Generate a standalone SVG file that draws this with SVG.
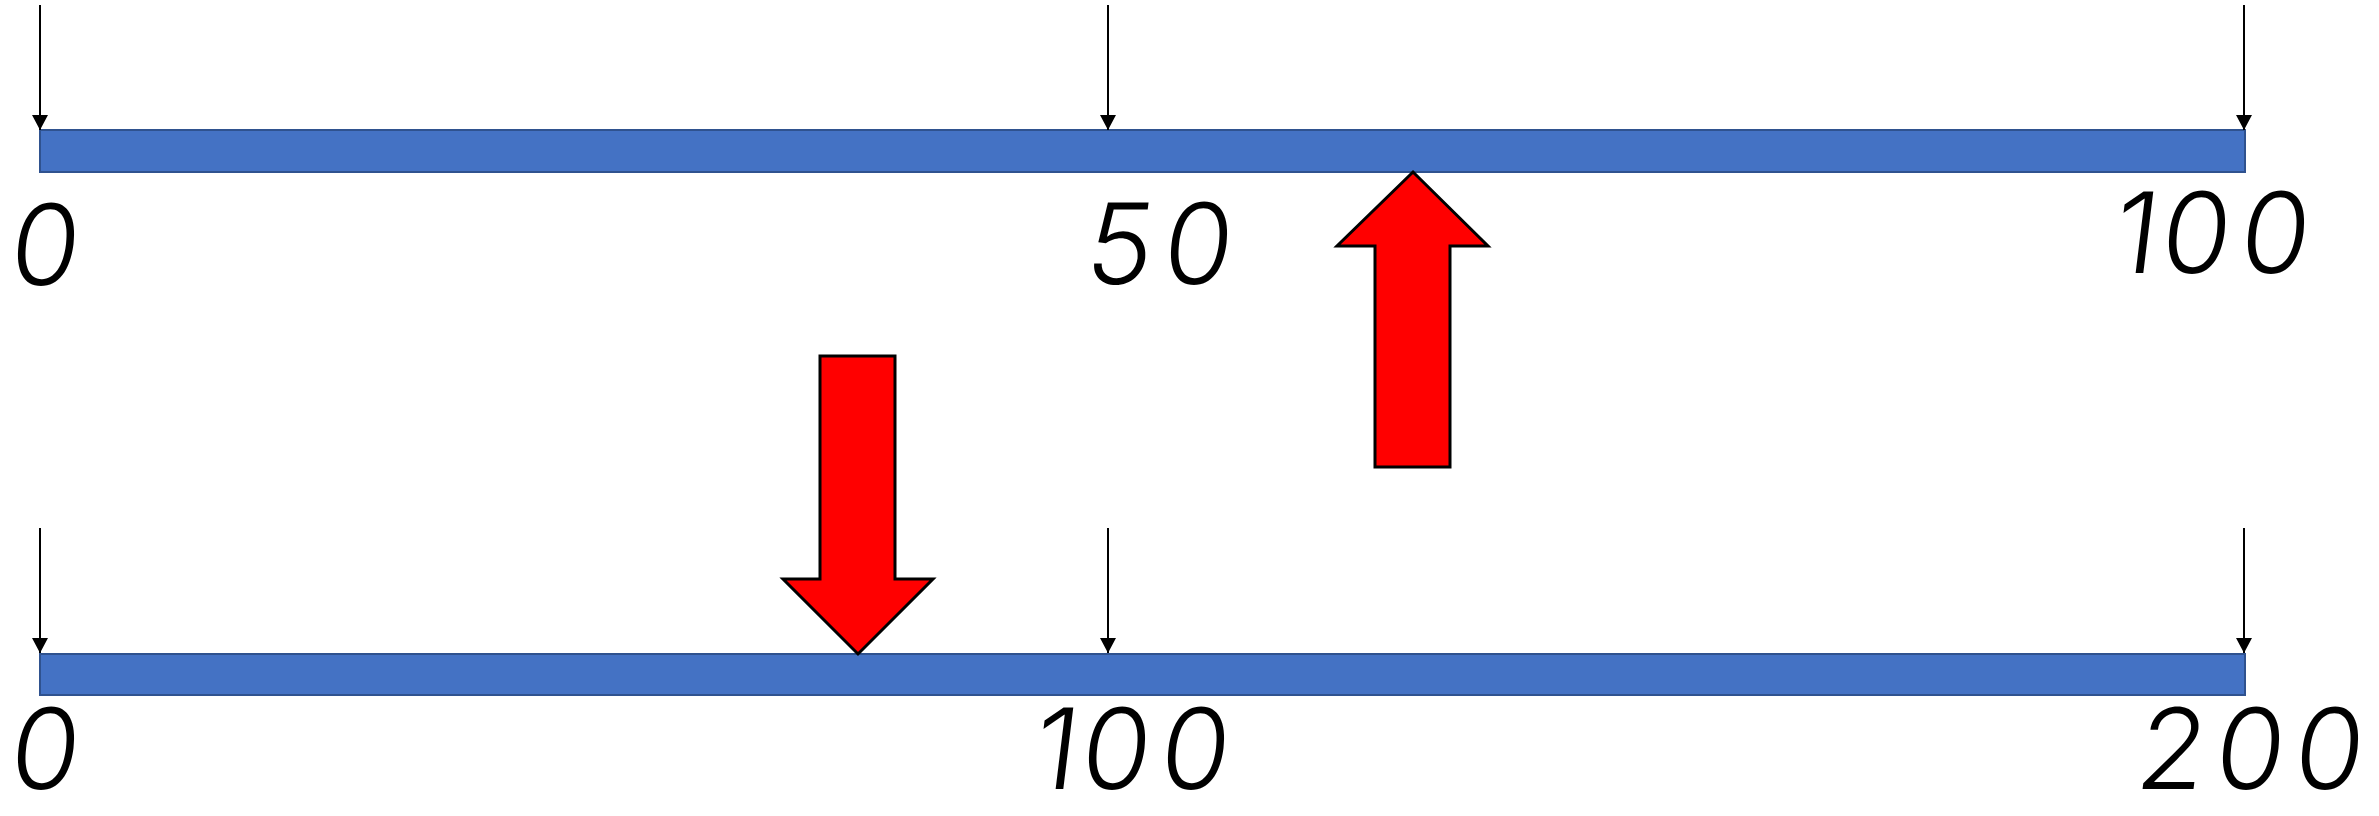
<svg xmlns="http://www.w3.org/2000/svg" width="2379" height="816" viewBox="0 0 2379 816">
  <style>
    .bar { fill: #4472C4; stroke: #2F528F; stroke-width: 2; }
    .big { fill: #FF0000; stroke: #000000; stroke-width: 3; stroke-linejoin: miter; }
    .tick { stroke: #000000; stroke-width: 2; fill: none; }
    .lbl { font-family: Inter, "Noto Sans", "Liberation Sans", sans-serif; font-size: 112px; font-weight: 300; fill: #000000; text-anchor: middle; }
  </style>
  <defs>
    <marker id="ah" markerUnits="userSpaceOnUse" markerWidth="16" markerHeight="16" refX="15" refY="8" orient="auto" viewBox="0 0 16 16">
      <path d="M0,0 L15,8 L0,16 Z" fill="#000000"/>
    </marker>
  </defs>
  <rect width="2379" height="816" fill="#FFFFFF"/>

  <g id="bar-top">
    <rect class="bar" x="40" y="130" width="2205" height="42"/>
  </g>
  <g id="bar-bottom">
    <rect class="bar" x="40" y="654" width="2205" height="41"/>
  </g>

  <g id="connectors">
    <line class="tick" x1="40" y1="5" x2="40" y2="130" marker-end="url(#ah)"/>
    <line class="tick" x1="1108" y1="5" x2="1108" y2="130" marker-end="url(#ah)"/>
    <line class="tick" x1="2244" y1="5" x2="2244" y2="130" marker-end="url(#ah)"/>
    <line class="tick" x1="40" y1="528" x2="40" y2="653" marker-end="url(#ah)"/>
    <line class="tick" x1="1108" y1="528" x2="1108" y2="653" marker-end="url(#ah)"/>
    <line class="tick" x1="2244" y1="528" x2="2244" y2="653" marker-end="url(#ah)"/>
  </g>

  <g id="arrow-up">
    <polygon class="big" points="1413,172 1488,246 1450,246 1450,467 1375,467 1375,246 1337,246"/>
  </g>
  <g id="arrow-down">
    <polygon class="big" points="820,356 895,356 895,579 933,579 858,654 783,579 820,579"/>
  </g>

  <g id="label-top-0"><text class="lbl" transform="translate(0,285) skewX(-7)" x="41" y="0">0</text></g>
  <g id="label-top-50"><text class="lbl" transform="translate(0,284) skewX(-7)" x="1116 1194" y="0">50</text></g>
  <g id="label-top-100"><text class="lbl" transform="translate(0,273) skewX(-7)" x="2132 2192 2271" y="0">100</text></g>
  <g id="label-bottom-0"><text class="lbl" transform="translate(0,789) skewX(-7)" x="41" y="0">0</text></g>
  <g id="label-bottom-100"><text class="lbl" transform="translate(0,789) skewX(-7)" x="1052 1112 1191" y="0">100</text></g>
  <g id="label-bottom-200"><text class="lbl" transform="translate(0,789) skewX(-7)" x="2168 2246 2325" y="0">200</text></g>
</svg>
